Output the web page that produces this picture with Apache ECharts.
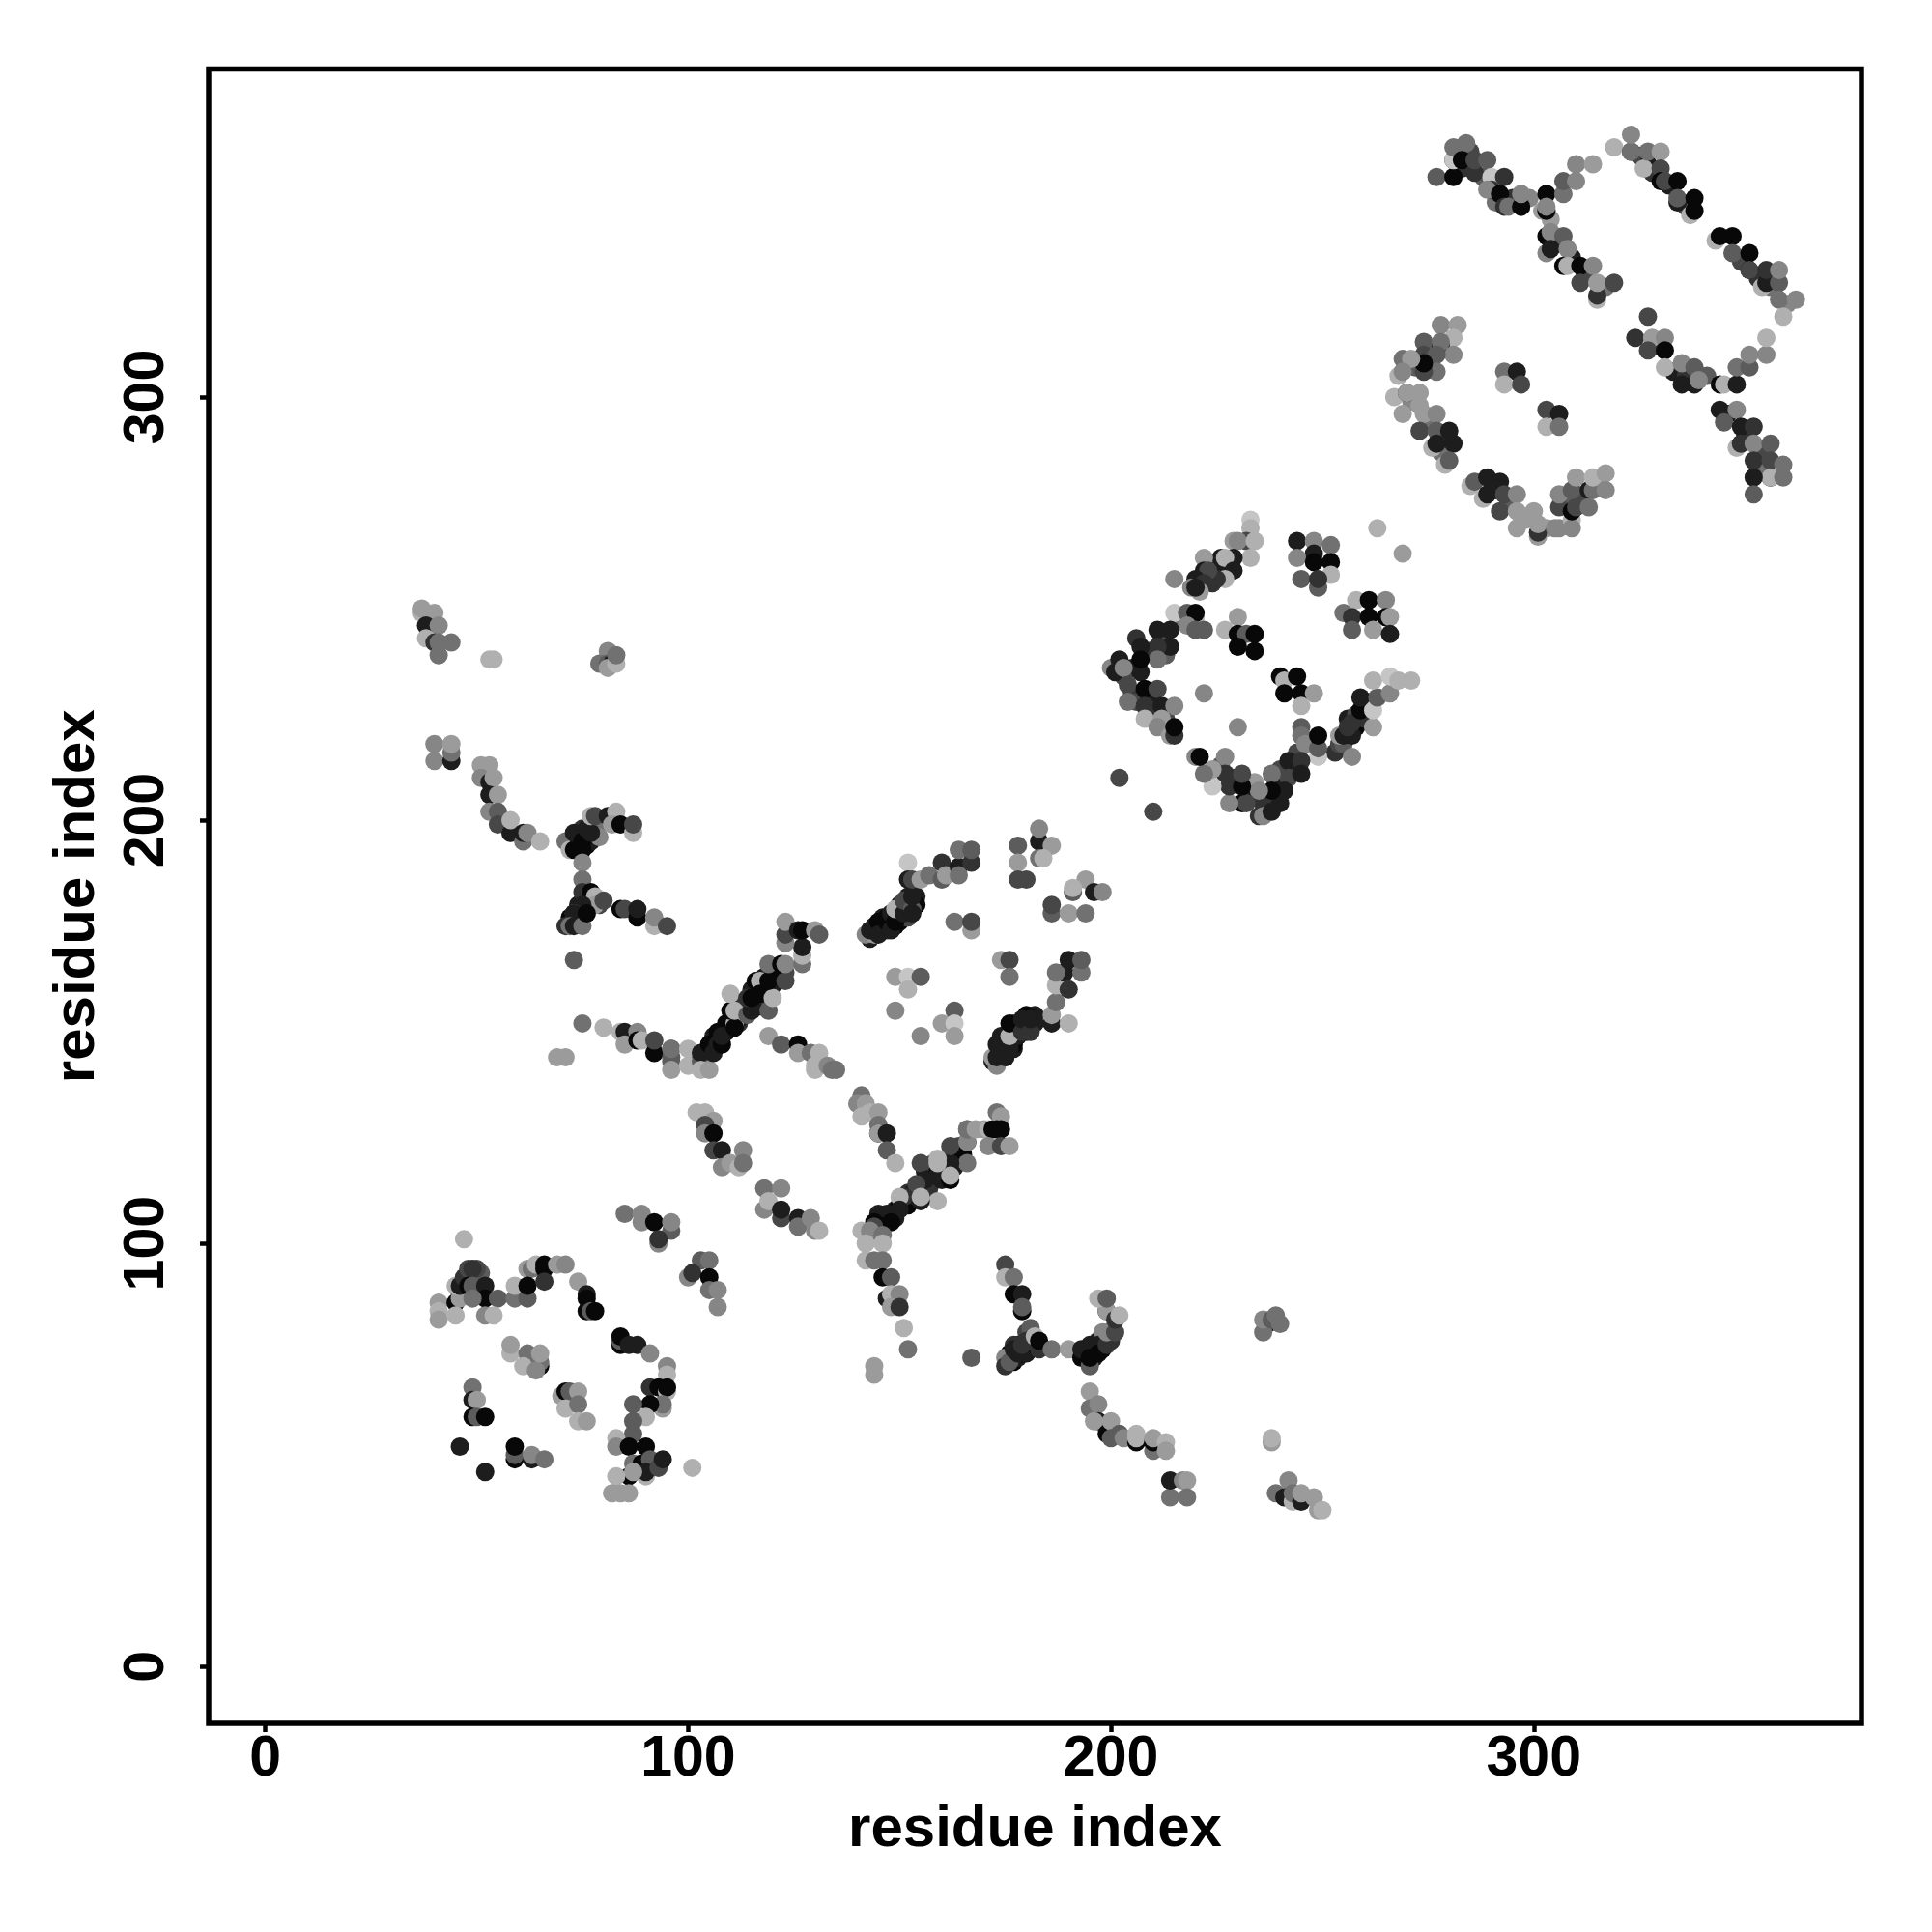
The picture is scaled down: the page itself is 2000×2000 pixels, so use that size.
<!DOCTYPE html>
<html><head><meta charset="utf-8">
<style>html,body{margin:0;padding:0;background:#fff}#c{width:2000px;height:2000px}</style>
<script src="https://cdn.jsdelivr.net/npm/echarts@6/dist/echarts.min.js"></script>
</head><body><div id="c"></div>
<script>
// Each contact: [residue i, residue j, shade 0 (darkest) .. 9 (lightest)]
const tickValues = [0, 100, 200, 300];
const axisTitle = "residue index";
const denseStem = [[144,103,1],[145,105,1],[146,106,0],[147,105,1],[148,107,0],[149,108,1],[149,106,1],[150,109,0],[151,110,1],[152,109,0],[152,112,2],[153,112,1],[154,111,1],[155,113,0],[156,113,1],[156,117,1],[157,115,0],[157,113,2],[158,116,1],[158,119,3],[160,115,1],[160,118,0],[161,117,0],[161,120,1],[163,118,1],[163,122,1],[164,123,3],[165,121,0]];
const denseUpper = [[103,144,1],[105,145,1],[106,146,0],[105,147,1],[107,148,0],[108,149,1],[106,149,1],[109,150,0],[110,151,1],[109,152,0],[112,152,2],[112,153,1],[111,154,1],[113,155,0],[113,156,1],[117,156,1],[115,157,0],[113,157,2],[116,158,1],[119,158,3],[115,160,1],[118,160,0],[117,161,0],[120,161,1],[118,163,1],[122,163,1],[123,164,3],[121,165,0]];
const denseCentral = [[143,172,1],[144,175,1],[146,174,0],[146,177,1],[147,174,2],[147,177,0],[148,176,1],[149,175,0],[149,178,1],[150,176,0],[150,180,1],[151,177,1],[152,179,0],[152,182,1],[152,177,3],[153,180,0],[154,182,1],[154,180,0]];
const denseRight = [[172,143,1],[175,144,1],[174,146,0],[177,146,1],[174,147,2],[177,147,0],[176,148,1],[175,149,0],[178,149,1],[176,150,0],[180,150,1],[177,151,1],[179,152,0],[182,152,1],[177,152,3],[180,153,0],[182,154,1],[180,154,0]];
const denseForks = [[176,73,1],[177,72,0],[178,76,1],[178,73,1],[179,74,0],[180,74,1],[180,79,3],[181,75,1],[181,78,5],[182,76,0],[176,74,0],[177,76,2],[73,176,1],[72,177,0],[76,178,1],[73,178,1],[74,179,0],[74,180,1],[79,180,3],[75,181,1],[78,181,5],[76,182,0],[72,195,0],[73,196,0],[74,194,1],[74,197,1],[75,198,2],[76,194,0],[76,196,1],[77,195,1],[78,197,1],[79,199,5],[79,196,6],[194,74,1],[195,75,0],[196,73,1],[196,76,1],[197,77,1],[198,75,0],[198,77,1],[199,78,1],[200,77,2],[198,79,6],[196,74,0]];
const denseMisc = [[221,257,1],[223,257,2],[224,259,1],[225,259,3],[226,259,0],[224,256,2],[227,260,1],[50,92,3],[50,91,5],[47,90,1],[46,88,2],[50,88,0],[51,93,4],[50,94,3]];
const denseRing = [[205,236,1],[203,234,3],[205,230,2],[206,228,3],[209,229,1],[210,226,2],[213,224,3],[209,240,2],[212,243,3],[213,239,4],[206,243,2],[216,247,5],[233,206,1],[236,204,2],[240,204,1],[243,212,2],[244,216,3],[229,210,3],[226,213,4],[234,209,7],[239,209,1],[240,212,3],[253,216,2],[254,218,3],[256,224,1],[258,222,0],[258,225,3],[260,227,1],[261,228,5],[260,224,2],[255,218,4]];
const denseFar = [[283,354,2],[285,358,3],[288,352,4],[291,346,5],[295,347,2],[299,347,6],[304,342,7],[325,357,3],[328,353,2],[332,350,1],[336,345,3],[349,332,3],[353,328,2],[356,326,5],[360,322,6],[305,336,2],[309,333,1],[312,329,3],[317,326,5],[329,312,2],[333,306,1],[336,305,2],[341,305,4],[346,296,1],[350,291,2],[354,287,3],[354,283,5],[276,311,3],[272,307,4],[271,299,6],[275,294,5],[279,290,2],[278,287,5],[291,278,2],[294,275,4],[298,271,7],[303,269,7],[308,276,4],[311,276,3],[315,279,6]];
const lowerLeft = [[47,101,8],[41,86,7],[41,84,8],[41,82,7],[45,86,0],[46,87,7],[45,83,8],[45,90,8],[46,90,1],[47,92,2],[48,94,3],[49,94,2],[48,90,0],[49,90,4],[52,90,1],[52,87,0],[49,87,5],[55,87,4],[59,87,5],[62,87,4],[52,83,6],[54,83,8],[59,90,8],[62,94,7],[63,94,5],[62,90,0],[64,95,8],[66,95,0],[66,94,0],[66,91,2],[69,95,7],[71,95,6],[74,91,7],[76,88,1],[76,87,0],[76,84,0],[77,84,4],[78,84,0],[84,76,0],[84,77,4],[84,78,0],[86,76,1],[88,76,1],[91,74,6],[95,71,6],[95,69,8],[91,66,2],[93,66,0],[95,65,8],[95,66,0],[94,61,7],[94,62,5],[91,62,0],[90,59,8],[87,62,4],[87,58,4],[87,55,4]];
const lowerKnot = [[83,54,8],[83,52,6],[86,52,0],[90,52,0],[87,48,5],[89,48,0],[91,49,4],[90,45,8],[90,46,1],[93,47,3],[94,49,1],[86,45,0],[87,46,7],[83,45,8],[82,41,7],[84,41,7],[86,41,7],[101,47,8]];
const lowerInner = [[58,74,8],[58,76,7],[62,74,5],[61,71,8],[65,71,0],[65,72,5],[64,70,6],[65,74,7],[49,66,5],[49,63,1],[50,63,7],[49,59,0],[50,59,4],[52,59,0],[46,52,1],[52,46,1],[59,49,0],[59,50,4],[59,52,0],[63,49,1],[63,50,6],[66,49,5],[70,64,7],[71,65,0],[72,65,4],[74,65,7],[71,61,8],[74,62,5],[74,58,8],[76,58,7]];
const lowerSide = [[85,107,5],[89,107,6],[89,105,6],[96,103,4],[92,105,0],[96,105,6],[93,100,6],[93,101,2],[103,96,4],[105,96,5],[100,92,6],[101,93,2],[105,92,0],[105,89,5],[107,85,6],[107,89,6]];
const stemBand = [[141,135,5],[140,133,6],[142,133,7],[141,130,8],[143,131,8],[145,131,7],[145,128,5],[145,126,0],[145,126,7],[147,126,1],[147,122,4],[149,119,8],[155,119,3],[166,119,5],[162,119,1],[162,123,3],[166,124,0],[166,124,6],[166,127,5],[159,117,0],[159,116,1],[162,115,0],[162,116,8],[159,119,8],[159,120,8],[156,115,1],[154,114,3],[159,110,8],[151,111,2],[150,111,8],[155,110,1],[155,111,8],[150,108,1],[147,107,1],[145,107,1],[148,105,0],[146,104,0],[144,105,0],[144,104,3],[141,103,8],[143,103,6],[146,102,5],[142,100,8],[146,100,8],[142,96,8],[144,96,5],[146,96,5],[146,92,0],[148,92,4],[147,87,1],[148,88,8],[150,88,6],[148,85,7],[150,85,2],[151,80,8],[152,75,5],[144,71,7],[144,69,7]];
const stemTop = [[166,127,5],[168,127,7],[170,127,7],[171,127,8],[172,127,0],[173,131,5],[174,130,7],[173,127,0],[174,127,0],[171,123,6],[174,123,3],[176,123,7]];
const yFork = [[175,95,3],[175,92,8],[177,92,5],[177,88,0],[179,88,1],[179,84,0],[179,85,4],[175,73,6],[175,71,2],[176,72,4],[177,75,1],[178,74,1],[179,76,2],[181,80,4],[180,77,2],[182,78,8],[183,75,2],[183,77,0],[186,75,5],[167,73,4],[190,75,7],[193,73,0],[195,71,4],[193,75,1],[195,76,1],[195,73,0],[197,76,1],[197,74,0],[199,76,2],[199,79,6],[201,79,3],[199,84,1],[199,84,7],[201,82,2],[202,83,8],[197,87,8],[199,87,4]];
const yTail = [[195,65,7],[195,61,5],[197,62,6],[197,58,1],[196,58,7],[199,55,0],[200,58,7],[200,54,4],[202,55,4],[203,54,6],[206,53,0],[206,54,8],[206,55,8],[210,51,5],[210,53,0],[210,54,7],[213,53,8],[213,51,7],[214,40,5],[214,44,1],[217,44,6],[218,44,7],[218,40,5],[238,53,7],[238,54,8],[237,81,1],[236,79,5],[236,82,6],[238,82,4],[239,83,5],[240,81,5],[239,41,5],[242,44,6],[241,40,1],[243,39,8],[243,41,5],[245,39,1],[245,41,7],[248,40,7],[249,37,7],[250,37,8]];
const upperStrand = [[37,249,8],[37,250,7],[40,249,7],[38,246,1],[41,246,6],[38,243,8],[40,242,2],[41,242,5],[44,242,5],[41,239,5],[53,238,8],[54,238,8],[81,240,6],[79,237,5],[81,237,4],[82,237,1],[81,236,7],[83,237,8],[83,239,5],[40,218,6],[40,214,6],[44,214,1],[44,216,5],[44,218,7],[51,213,7],[53,213,7],[51,210,6],[53,209,1],[54,210,7],[53,206,1],[55,206,7],[53,202,6],[55,202,4],[55,199,3],[58,197,7],[58,197,1],[58,200,8],[61,195,5],[61,197,1],[62,197,6],[65,195,8]];
const upperFork = [[71,195,5],[72,193,8],[73,193,0],[73,197,1],[75,195,0],[75,193,0],[76,198,1],[77,197,1],[77,201,8],[78,201,3],[81,201,1],[83,202,8],[82,199,7],[84,199,0],[87,197,8],[87,199,3],[75,190,6],[75,186,5],[75,183,2],[77,183,0],[78,182,8],[78,180,7],[80,181,3],[75,180,1],[75,177,1],[73,178,5],[73,178,1],[71,175,2],[72,175,5],[73,175,1],[75,175,5],[76,178,0],[84,179,0],[85,179,3],[88,177,0],[88,179,1],[92,175,8],[92,177,6],[95,175,3],[73,167,4]];
const upperLine = [[75,152,5],[80,151,8],[84,150,8],[85,150,1],[85,147,7],[88,150,6],[88,148,0],[89,148,8],[92,145,0],[92,148,3],[96,146,4],[96,144,4],[69,144,7],[71,144,7],[96,143,4],[96,141,7],[96,146,5],[100,146,8],[100,142,8],[103,143,4],[103,145,1],[103,141,8],[105,141,7]];
const upperBand = [[105,147,0],[106,145,1],[107,150,0],[107,147,1],[108,147,0],[108,149,1],[111,152,8],[111,151,0],[110,155,0],[111,155,8],[110,159,8],[114,154,4],[115,155,1],[114,158,2],[115,158,0],[116,162,0],[117,162,8],[117,159,0],[119,155,4],[120,158,8],[119,162,0],[123,162,3],[119,166,5],[122,166,0],[123,166,6],[127,166,5],[127,168,8],[127,170,1],[123,171,6],[123,173,3],[123,176,7],[126,174,1],[127,174,0],[130,174,7],[131,173,4]];
const upperTail = [[119,149,7],[122,147,4],[126,147,0],[126,145,7],[129,145,5],[131,145,8],[130,141,8],[130,142,8],[133,142,6],[134,141,5],[135,141,5]];
const middleArcs = [[104,131,8],[102,131,8],[106,129,7],[104,128,3],[104,126,6],[106,126,0],[106,122,3],[108,122,1],[108,118,6],[110,119,7],[112,118,8],[113,122,6],[113,119,5],[118,113,5],[122,113,6],[118,108,6],[119,110,8],[122,106,3],[122,108,1],[126,106,1],[126,104,5],[129,106,6],[130,103,6],[131,103,8]];
const centralBand = [[142,173,6],[144,173,7],[143,174,1],[145,176,0],[145,173,1],[147,176,0],[148,174,1],[148,178,1],[149,176,0],[149,179,8],[151,178,1],[151,181,3],[153,179,4],[153,178,1],[153,182,1],[152,190,9],[152,186,1],[153,186,3],[155,186,7],[157,187,5],[160,186,4],[160,190,2],[161,187,7],[164,189,1],[164,187,5],[164,193,5],[167,190,2],[167,193,4]];
const centralSpots = [[178,194,4],[183,195,1],[183,198,6],[186,194,7],[178,190,7],[183,191,5],[184,191,8],[178,186,3],[180,186,3],[194,186,7],[191,183,4],[191,184,8],[196,183,1],[198,183,6],[186,178,4],[186,180,3],[190,178,7],[194,178,5],[163,176,5],[167,174,7],[167,176,3],[149,163,7],[152,163,9],[155,163,4],[152,160,8],[149,155,6],[163,155,4],[160,152,7],[163,152,9],[155,149,6],[163,149,7],[174,167,7],[176,167,3],[176,163,5]];
const rightBand = [[172,144,7],[173,142,6],[173,144,1],[173,147,1],[175,144,1],[176,146,1],[174,149,1],[176,149,8],[176,152,0],[179,150,2],[179,153,1],[181,150,2],[181,153,1],[186,152,1],[186,154,7],[190,152,8],[187,157,5],[187,161,8],[189,164,1],[187,164,5],[190,160,2],[190,167,1],[193,164,5],[193,167,4]];
const ringTop = [[233,271,9],[233,269,8],[229,266,7],[232,266,3],[230,266,6],[234,266,8],[233,262,8],[229,262,1],[226,262,1],[227,262,8],[229,259,1],[227,257,8],[222,262,7],[225,257,2],[222,259,1],[223,259,3],[220,257,1],[222,256,2],[215,257,6],[219,255,6],[221,254,7],[220,255,1],[215,249,9],[218,249,4],[220,248,8],[220,249,0],[218,246,6],[220,245,4],[222,245,4]];
const ringLeft = [[211,245,1],[214,245,1],[214,241,1],[211,241,2],[211,238,5],[207,241,1],[207,235,1],[207,238,0],[200,236,6],[202,238,1],[201,235,1],[203,236,6],[204,232,3],[204,228,5],[208,231,0],[211,231,3],[208,227,2],[212,227,1],[215,227,6],[208,224,8],[212,224,7],[211,222,6],[214,220,7],[215,220,2],[215,222,0]];
const ringInner = [[222,230,6],[230,222,6],[202,210,3],[210,202,3],[230,248,7],[227,245,8],[230,244,0],[232,244,4],[234,244,0],[230,241,0],[234,240,0],[240,234,0],[241,233,8],[244,234,0],[241,230,0],[245,230,0],[248,230,7],[245,227,8]];
const ringBottom = [[245,222,4],[245,220,5],[246,218,6],[249,215,9],[249,217,4],[249,220,0],[242,214,1],[245,214,2],[242,210,3],[245,211,1],[238,211,5],[241,207,1],[238,207,0],[235,207,6],[235,201,2],[236,201,6],[238,202,1],[231,204,0],[232,204,3],[228,204,6],[228,208,2],[231,208,0],[227,215,6],[227,211,2],[231,211,3],[224,208,9],[224,212,7],[222,211,5],[220,215,6],[221,215,0]];
const ringRight = [[257,215,6],[262,222,7],[254,220,7],[255,220,1],[257,220,1],[256,222,2],[257,223,2],[259,226,0],[262,226,9],[259,229,1],[263,229,4],[262,233,8],[266,230,6],[266,234,9],[268,233,8],[271,233,8]];
const ringCorner = [[244,266,1],[248,266,6],[252,265,5],[248,263,1],[244,262,6],[248,261,0],[252,261,0],[252,258,8],[245,257,4],[249,255,4],[249,257,2],[263,269,8],[269,263,7],[258,252,8],[261,252,0],[265,252,6],[255,249,5],[257,248,2],[261,248,0],[265,248,0],[266,248,7],[257,245,4],[262,245,7],[266,244,1]];
const farStrandA = [[277,352,4],[281,352,0],[281,356,1],[281,356,9],[281,359,5],[284,360,5],[283,356,0],[286,353,2],[286,356,3],[289,356,4],[290,352,9],[290,349,2],[289,349,6],[293,352,2],[292,348,0],[293,345,2],[294,345,5],[297,345,4],[297,345,0],[297,348,6],[303,348,0],[302,344,7],[303,344,0],[303,345,6],[307,348,5],[307,351,4],[310,351,6],[310,355,6],[314,355,7]];
const farStrandB = [[319,359,8],[323,358,2],[323,358,5],[323,362,6],[327,355,1],[326,354,8],[327,358,5],[330,358,7],[330,354,3],[330,351,0],[331,351,3],[334,351,0],[334,346,1],[334,347,4],[338,347,0],[337,343,8],[338,344,0],[343,337,8],[344,338,0],[347,338,0],[347,334,4],[351,334,0],[351,330,0],[351,330,3],[354,326,8],[355,327,1],[355,330,2],[358,327,4],[358,330,6],[358,323,5],[362,323,6],[359,319,8]];
const farStrandC = [[303,338,0],[304,339,6],[307,338,4],[303,334,6],[304,335,1],[308,335,6],[307,331,0],[308,331,8],[311,331,0],[314,331,6],[311,327,3],[315,323,8],[315,324,2],[315,327,7],[319,327,3]];
const farStrandD = [[327,319,3],[324,314,2],[328,314,7],[331,314,6],[327,311,3],[331,311,0],[331,307,8],[335,308,6],[338,307,4],[335,303,1],[338,303,1],[339,304,6],[344,303,0],[345,303,8],[348,303,1],[348,307,5],[351,307,4],[351,310,6],[355,310,6],[355,314,8]];
const farStrandE = [[344,297,1],[348,297,6],[345,294,4],[349,293,1],[352,293,2],[348,288,8],[349,289,2],[352,289,6],[356,289,4],[352,285,2],[356,285,3],[356,281,0],[356,281,8],[359,284,5],[359,281,5],[352,281,1],[352,277,4]];
const farArc = [[278,317,6],[282,317,7],[281,314,8],[274,313,4],[278,312,1],[278,313,5],[281,310,6],[274,310,3],[277,310,4],[277,306,5],[274,306,3],[274,308,0],[269,309,5],[271,309,7],[268,305,8],[269,306,6],[267,300,8],[270,301,2],[270,301,7],[273,301,7],[273,298,7],[269,296,7],[274,296,7],[277,296,6],[273,292,3],[277,292,4],[280,292,1],[276,288,8],[277,289,1],[281,289,1],[279,284,8],[280,285,4]];
const farArcBottom = [[285,279,8],[286,280,4],[289,281,1],[292,280,1],[288,276,8],[289,277,1],[293,277,3],[296,277,6],[292,273,3],[296,273,7],[300,273,7],[296,269,7],[301,267,7],[301,268,2],[301,270,7],[305,269,6],[306,269,6],[309,271,8],[309,269,6],[306,274,3],[306,277,6],[309,273,0],[310,274,3],[309,278,4],[310,281,7],[313,278,1],[314,278,5],[313,274,5],[314,281,8],[317,282,7],[317,278,6]];
const farCenter = [[293,306,5],[296,306,1],[293,303,8],[297,303,3],[303,297,3],[306,296,1],[303,293,8],[306,293,5]];

const contacts = [].concat(denseStem, denseUpper, denseCentral, denseRight, denseForks, denseMisc, denseRing, denseFar, lowerLeft, lowerKnot, lowerInner, lowerSide, stemBand, stemTop, yFork, yTail, upperStrand, upperFork, upperLine, upperBand, upperTail, middleArcs, centralBand, centralSpots, rightBand, ringTop, ringLeft, ringInner, ringBottom, ringRight, ringCorner, farStrandA, farStrandB, farStrandC, farStrandD, farStrandE, farArc, farArcBottom, farCenter);

const grey = s => { const g = 8 + s * 21; return `rgb(${g},${g},${g})`; };
const font = { fontFamily: '"Liberation Sans"', fontWeight: 'bold', fontSize: 60, color: '#000' };
const axis = (isY) => ({
  type: 'value', min: -13.4, max: 377.5,
  name: axisTitle, nameLocation: 'middle', nameGap: isY ? 106 : 80,
  nameTextStyle: font,
  splitLine: { show: false },
  axisLine: { show: false, onZero: false },
  axisTick: { show: true, length: 9, lineStyle: { color: '#000', width: 4.5 }, customValues: tickValues },
  axisLabel: Object.assign({ show: true, margin: isY ? 34 : 8, rotate: isY ? 90 : 0, customValues: tickValues, formatter: v => String(v) }, font, { fontSize: 59 })
});
const chart = echarts.init(document.getElementById('c'), null, { renderer: 'canvas' });
chart.setOption({
  animation: false,
  backgroundColor: '#fff',
  grid: { left: 216, top: 71.5, width: 1711, height: 1712.5, show: true, borderColor: '#000', borderWidth: 5.5, backgroundColor: 'transparent', containLabel: false },
  xAxis: axis(false),
  yAxis: axis(true),
  series: [{
    type: 'scatter', symbol: 'circle', symbolSize: 19, silent: true, clip: true,
    data: contacts,
    itemStyle: { color: p => grey(p.value[2]), opacity: 1 }
  }]
});
</script></body></html>
